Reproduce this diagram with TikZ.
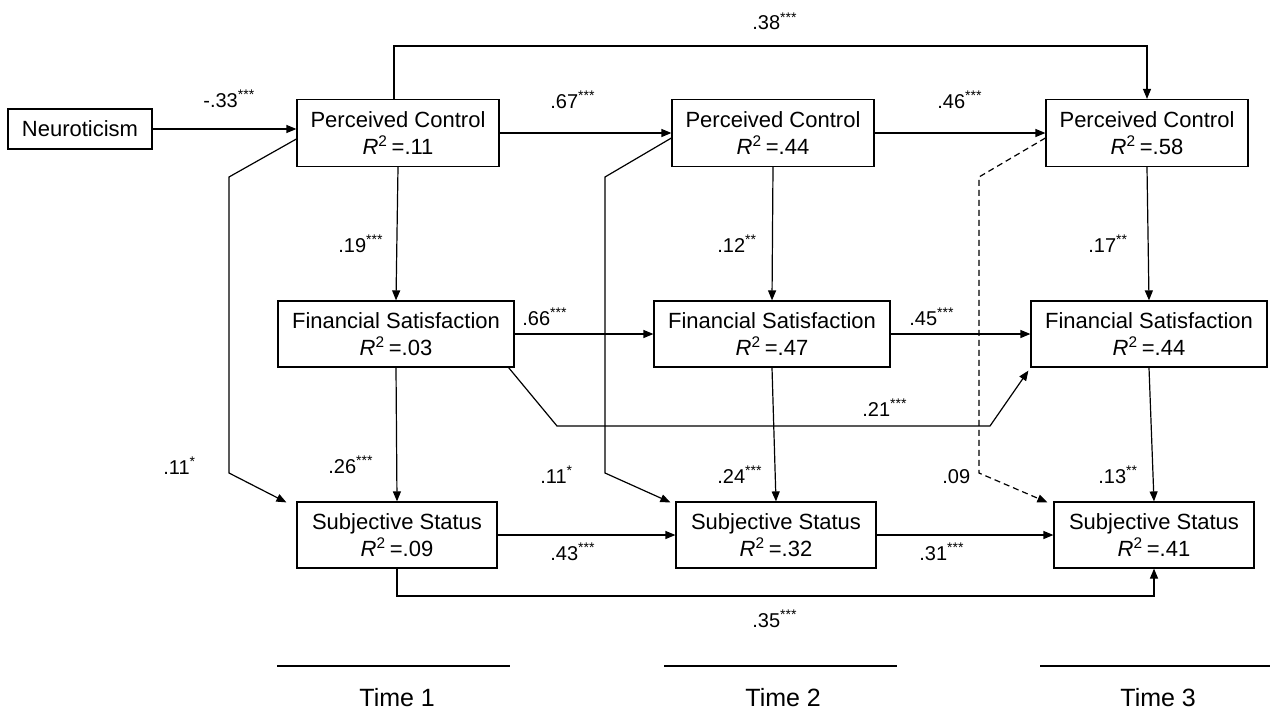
\documentclass[tikz,border=0pt]{standalone}
\usepackage{fontspec}
\setmainfont{Liberation Sans}
\usetikzlibrary{arrows.meta,calc}
\newcommand\sig[1]{\textsuperscript{#1}}
\newcommand\rsq[1]{\textit{R}\textsuperscript{2}\,=#1}
\begin{document}
\begin{tikzpicture}[x=0.5pt,y=-0.5pt,
  box/.style={draw,line width=0.6pt,inner sep=0pt,align=center,font=\fontsize{11}{13.5}\selectfont},
  pcbox/.style={box,minimum width=101pt,minimum height=33.5pt},
  fsbox/.style={box,minimum width=118pt,minimum height=33pt},
  ssbox/.style={box,minimum width=100pt,minimum height=33pt},
  lbl/.style={anchor=base west,inner sep=0pt,font=\fontsize{10}{12}\selectfont},
  tlbl/.style={anchor=base west,inner sep=0pt,font=\fontsize{12.5}{15}\selectfont},
  conn/.style={line width=0.6pt},
  arr/.style={conn,-{Triangle[length=5pt,width=4pt]}},
  dsh/.style={dash pattern=on 3pt off 2pt}]
\useasboundingbox (0,0) rectangle (1270,712);

% boxes
\node[box,minimum width=72pt,minimum height=20pt] (neur) at (80,129) {Neuroticism};
\node[pcbox] (pc1) at (398,133) {Perceived Control\\\rsq{.11}};
\node[pcbox] (pc2) at (773,133) {Perceived Control\\\rsq{.44}};
\node[pcbox] (pc3) at (1147,133) {Perceived Control\\\rsq{.58}};
\node[fsbox] (fs1) at (396,334) {Financial Satisfaction\\\rsq{.03}};
\node[fsbox] (fs2) at (772,334) {Financial Satisfaction\\\rsq{.47}};
\node[fsbox] (fs3) at (1149,334) {Financial Satisfaction\\\rsq{.44}};
\node[ssbox] (ss1) at (397,535) {Subjective Status\\\rsq{.09}};
\node[ssbox] (ss2) at (776,535) {Subjective Status\\\rsq{.32}};
\node[ssbox] (ss3) at (1154,535) {Subjective Status\\\rsq{.41}};

% horizontal paths
\draw[arr] (neur.east) -- (neur.east -| pc1.west);
\draw[arr] (pc1.east) -- (pc2.west);
\draw[arr] (pc2.east) -- (pc3.west);
\draw[arr] (fs1.east) -- (fs2.west);
\draw[arr] (fs2.east) -- (fs3.west);
\draw[arr] (ss1.east) -- (ss2.west);
\draw[arr] (ss2.east) -- (ss3.west);

% vertical paths
\draw[arr] (pc1.south) -- (fs1.north);
\draw[arr] (pc2.south) -- (fs2.north);
\draw[arr] (pc3.south) -- (fs3.north);
\draw[arr] (fs1.south) -- (ss1.north);
\draw[arr] (fs2.south) -- (ss2.north);
\draw[arr] (fs3.south) -- (ss3.north);

% long paths
\coordinate (t1) at (394,46);
\coordinate (t3) at (1147,46);
\draw[arr] (pc1.north -| t1) -- (t1) -- (t3) -- (pc3.north -| t3);
\coordinate (b1) at (397,596);
\coordinate (b3) at (1154,596);
\draw[arr] (ss1.south) -- (b1) -- (b3) -- (ss3.south);
\coordinate (d1) at (557,426);
\coordinate (d2) at (990,426);
\draw[arr] ($(fs1.south east)+(-6,0)$) -- (d1) -- (d2) -- ($(fs3.south west)+(-2,3)$);

% cross-lagged PC -> SS
\coordinate (a1) at (229,177);
\coordinate (a2) at (229,473);
\draw[arr] ($(pc1.west)+(0,6)$) -- (a1) -- (a2) -- ($(ss1.north west)+(-10,1)$);
\coordinate (e1) at (605,177);
\coordinate (e2) at (605,473);
\draw[arr] ($(pc2.west)+(0,5)$) -- (e1) -- (e2) -- ($(ss2.north west)+(-5,1)$);
\coordinate (g1) at (979,177);
\coordinate (g2) at (979,473);
\draw[arr,dsh] ($(pc3.west)+(0,5)$) -- (g1) -- (g2) -- ($(ss3.north west)+(-6,1)$);

% labels
\node[lbl] (l33) at (203,107) {-.33\sig{***}};
\node[lbl] (l67) at (550,108) {.67\sig{***}};
\node[lbl] (l46) at (937,108) {.46\sig{***}};
\node[lbl] (l38) at (752,30) {.38\sig{***}};
\node[lbl] (l19) at (338,252) {.19\sig{***}};
\node[lbl] (l12) at (717,252) {.12\sig{**}};
\node[lbl] (l17) at (1088,252) {.17\sig{**}};
\node[lbl] (l66) at (522,325) {.66\sig{***}};
\node[lbl] (l45) at (909,325) {.45\sig{***}};
\node[lbl] (l21) at (862,416) {.21\sig{***}};
\node[lbl] (l11a) at (163,474) {.11\sig{*}};
\node[lbl] (l26) at (328,473) {.26\sig{***}};
\node[lbl] (l11b) at (540,483) {.11\sig{*}};
\node[lbl] (l24) at (717,483) {.24\sig{***}};
\node[lbl] (l09) at (942,483) {.09};
\node[lbl] (l13) at (1098,483) {.13\sig{**}};
\node[lbl] (l43) at (550,560) {.43\sig{***}};
\node[lbl] (l31) at (919,560) {.31\sig{***}};
\node[lbl] (l35) at (752,627) {.35\sig{***}};

% time axis
\draw[conn] (277,666) -- (510,666);
\draw[conn] (664,666) -- (897,666);
\draw[conn] (1040,666) -- (1270,666);
\node[tlbl] (time1) at (359,706) {Time 1};
\node[tlbl] (time2) at (745,706) {Time 2};
\node[tlbl] (time3) at (1120,706) {Time 3};
\end{tikzpicture}
\end{document}
